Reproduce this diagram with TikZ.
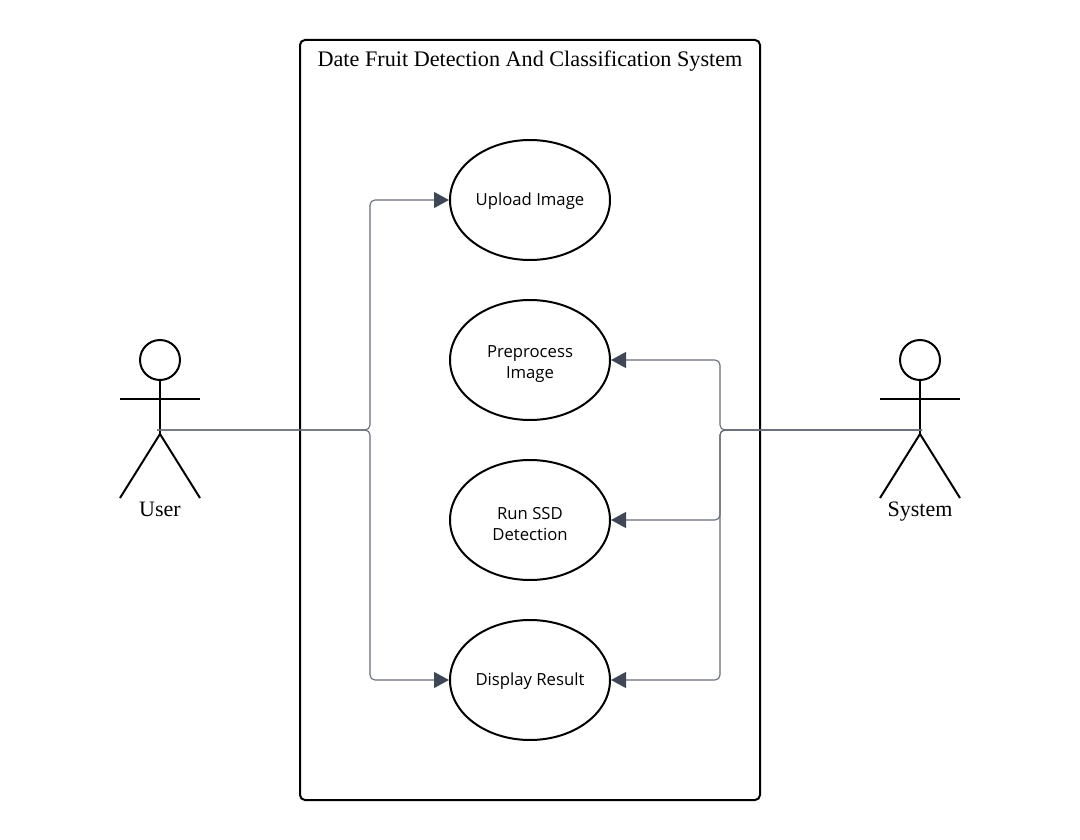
\documentclass[tikz,border=0pt]{standalone}
\usepackage{fontspec}
\setmainfont{Liberation Serif}
\newfontfamily\ucfont{Open Sans}
\usetikzlibrary{shapes.geometric,arrows.meta,calc}
\definecolor{conn}{HTML}{666D78}
\definecolor{tipc}{HTML}{3F4854}
\newcommand{\dropa}{\rule{0pt}{20.5pt}}
\newcommand{\dropb}{\rule{0pt}{16pt}}
\tikzset{
  x=1pt,y=-1pt,
  usecase/.style={draw=black,line width=2pt,ellipse,minimum width=160pt,minimum height=120pt,inner sep=0pt,align=center,font=\ucfont\fontsize{16.7}{20.5}\selectfont},
  sysbox/.style={draw=black,line width=2pt,rounded corners=5pt},
  titletext/.style={font=\fontsize{22.2}{26}\selectfont,inner sep=0pt},
  actorlabel/.style={font=\fontsize{22}{26}\selectfont,inner sep=0pt,anchor=base},
  limb/.style={draw=black,line width=2pt},
  link/.style={draw=conn,line width=1.1pt,rounded corners=5pt,-{Triangle[length=15pt,width=16pt,color=tipc,fill=tipc]}}
}
\begin{document}
\begin{tikzpicture}
\useasboundingbox (0,0) rectangle (1080,840);
\fill[white] (0,0) rectangle (1080,840);
\draw[sysbox] (300,40) rectangle (760,800);
\node[titletext] (title) at (530,61) {Date Fruit Detection And Classification System};
\node[usecase] (upload) at (530,200) {\dropb Upload Image};
\node[usecase] (pre) at (530,360) {\dropa Preprocess\\Image};
\node[usecase] (run) at (530,520) {\dropa Run SSD\\Detection};
\node[usecase] (disp) at (530,680) {\dropb Display Result};
% User actor
\node[draw=black,line width=2pt,circle,minimum size=40pt,inner sep=0pt] (uh) at (160,360) {};
\coordinate (uhip) at (160,434);
\coordinate (ularm) at (120,399);
\coordinate (urarm) at (200,399);
\coordinate (ulleg) at (120,498);
\coordinate (urleg) at (200,498);
\draw[limb] (uh.south) -- (uhip);
\draw[limb] (ularm) -- (urarm);
\draw[limb] (ulleg) -- (uhip) -- (urleg);
\node[actorlabel] (ul) at (160,516) {User};
% System actor
\node[draw=black,line width=2pt,circle,minimum size=40pt,inner sep=0pt] (sh) at (920,360) {};
\coordinate (ship) at (920,434);
\coordinate (slarm) at (880,399);
\coordinate (srarm) at (960,399);
\coordinate (slleg) at (880,498);
\coordinate (srleg) at (960,498);
\draw[limb] (sh.south) -- (ship);
\draw[limb] (slarm) -- (srarm);
\draw[limb] (slleg) -- (ship) -- (srleg);
\node[actorlabel] (sl) at (920,516) {System};
% Connectors
\coordinate (user) at (157,430);
\coordinate (system) at (922,430);
\coordinate (ju) at (370,430);
\coordinate (js) at (720,430);
\draw[link] (user) -- (ju) |- (upload.west);
\draw[link] (user) -- (ju) |- (disp.west);
\draw[link] (system) -- (js) |- (pre.east);
\draw[link] (system) -- (js) |- (run.east);
\draw[link] (system) -- (js) |- (disp.east);
\end{tikzpicture}
\end{document}
